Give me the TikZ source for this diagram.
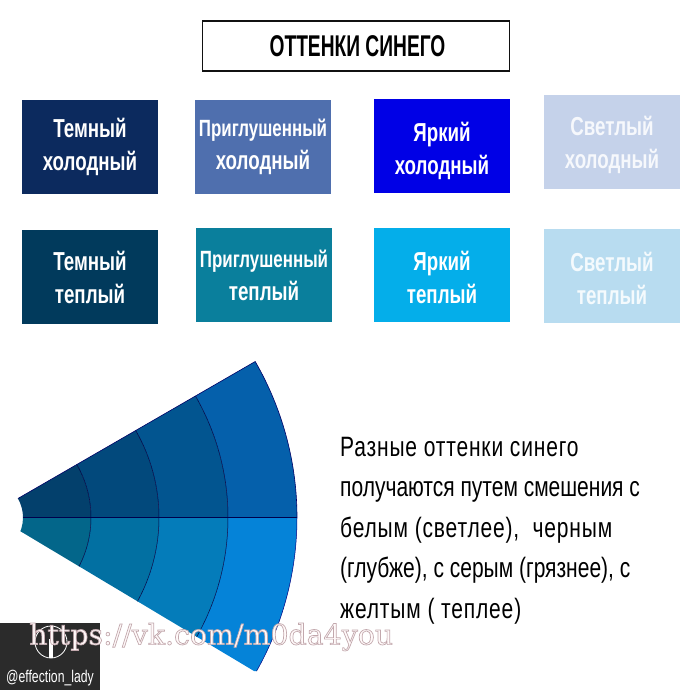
\documentclass[tikz,border=0pt]{standalone}
\usepackage{fontspec}
\setmainfont{Liberation Sans}
\newfontfamily\condfont[FakeStretch=0.72]{Liberation Sans}
\newfontfamily\headfont[FakeStretch=0.64]{Liberation Sans}
\newfontfamily\plainfont[FakeStretch=0.75]{Liberation Sans}
\newfontfamily\slabfont{DejaVu Serif}
\newcommand{\wider}{\addfontfeature{LetterSpace=3}}
\definecolor{title}{HTML}{111111}
\definecolor{coldA}{HTML}{0C2A5E}
\definecolor{coldB}{HTML}{4F6FAE}
\definecolor{coldC}{HTML}{0000E6}
\definecolor{coldD}{HTML}{C5D2EA}
\definecolor{warmA}{HTML}{013A5C}
\definecolor{warmB}{HTML}{0A7F9C}
\definecolor{warmC}{HTML}{04AEEA}
\definecolor{warmD}{HTML}{B8DCF0}
\definecolor{upA}{HTML}{03406C}
\definecolor{upB}{HTML}{02497C}
\definecolor{upC}{HTML}{025590}
\definecolor{upD}{HTML}{0560AB}
\definecolor{lowA}{HTML}{03668A}
\definecolor{lowB}{HTML}{0270A2}
\definecolor{lowC}{HTML}{047CBA}
\definecolor{lowD}{HTML}{0583D8}
\tikzset{
  swatch/.style={minimum width=136pt, minimum height=94pt, inner sep=0pt, text=white,
    align=center, font=\condfont\bfseries\fontsize{26}{33}\selectfont},
}
\newcommand{\ringpart}[5]{%
  \fill[#5] (#3:#1) arc[start angle=#3, end angle=#4, radius=#1]
    -- (#4:#2) arc[start angle=#4, end angle=#3, radius=#2] -- cycle;
}
\begin{document}
\begin{tikzpicture}[x=1pt, y=-1pt]
\useasboundingbox (0,0) rectangle (690,690);

%% title
\node[draw=title, line width=1.6pt, minimum width=307pt, minimum height=50pt, inner sep=0pt,
  font=\headfont\bfseries\fontsize{30}{32}\selectfont] (head) at (356,46) {\hspace{3pt}ОТТЕНКИ СИНЕГО};

%% swatches
\node[swatch, fill=coldA] (darkcold) at (90,147) {Темный\\холодный};
\node[swatch, fill=coldB] (mutedcold) at (263,147) {\fontsize{23.5}{33}\selectfont Приглушенный\\холодный};
\node[swatch, fill=coldC] (brightcold) at (442,146) {\rule{0pt}{30pt}Яркий\\холодный};
\node[swatch, fill=coldD, text=white!85!coldD] (lightcold) at (612,142) {\rule{0pt}{26pt}Светлый\\холодный};

\node[swatch, fill=warmA] (darkwarm) at (90,277) {Темный\\теплый};
\node[swatch, fill=warmB] (mutedwarm) at (264,275) {\fontsize{23.5}{31}\selectfont Приглушенный\\теплый};
\node[swatch, fill=warmC] (brightwarm) at (442,275) {\rule{0pt}{24pt}Яркий\\теплый};
\node[swatch, fill=warmD, text=white!85!warmD] (lightwarm) at (612,276) {\rule{0pt}{24pt}Светлый\\теплый};

%% fan
\begin{scope}[shift={(-15,517.5)}, y=1pt]
\ringpart{38}{106}{0}{30}{upA}
\ringpart{106}{174}{0}{30}{upB}
\ringpart{174}{243}{0}{30}{upC}
\ringpart{243}{312}{0}{30}{upD}
\end{scope}

\begin{scope}
\clip (20,531) -- (254,671) -- (320,671) -- (320,517.5) -- (0,517.5) -- (0,531) -- cycle;
\begin{scope}[shift={(-15,517.5)}, y=1pt]
\ringpart{38}{106}{-35}{0}{lowA}
\ringpart{106}{174}{-35}{0}{lowB}
\ringpart{174}{243}{-35}{0}{lowC}
\ringpart{243}{312}{-35}{0}{lowD}
\foreach \r in {106,174,243}
  \draw[black!75!blue, line width=0.5pt] (0:\r) arc[start angle=0, end angle=-35, radius=\r];
\draw[black!50!blue, line width=0.5pt] (0:312) arc[start angle=0, end angle=-35, radius=312];
\end{scope}
\end{scope}

\begin{scope}[shift={(-15,517.5)}, y=1pt]
\foreach \r in {106,174,243}
  \draw[black!75!blue, line width=0.5pt] (30:\r) arc[start angle=30, end angle=0, radius=\r];
\draw[black!70!blue, line width=0.8pt] (0:38) -- (0:312);
\draw[black!60!blue, line width=0.6pt] (30:38) -- (30:312) arc[start angle=30, end angle=0, radius=312];
\end{scope}

%% text
\node[anchor=north west, inner sep=0pt, align=left, font=\plainfont\fontsize{28}{40.5}\selectfont] (para) at (340,437)
  {{\wider Разные оттенки синего}\\получаются путем смешения с\\{\wider белым (светлее),~ черным}\\(глубже), с серым (грязнее), с\\{\wider желтым ( теплее)}};

%% corner badge
\fill[black!83] (0,623) rectangle (100,690);
\node[draw=white, circle, line width=0.8pt, minimum size=32pt, inner sep=0pt] (badge) at (51,642) {};
\draw[white, line width=3.5pt] (badge.center) ++(0,-3) -- (badge.south);
\node[text=white, inner sep=0pt, font=\condfont\fontsize{17}{20}\selectfont] (handle) at (50,678) {@effection\_lady};
\node[anchor=west, inner sep=0pt, text=white!90!pink, font=\slabfont\fontsize{28.4}{30}\selectfont] (mark) at (29,637)
  {\special{pdf: code q 2 Tr 0.7 w 0.76 0.66 0.68 RG}https://vk.com/m0da4you\special{pdf: code Q}};

\end{tikzpicture}
\end{document}
